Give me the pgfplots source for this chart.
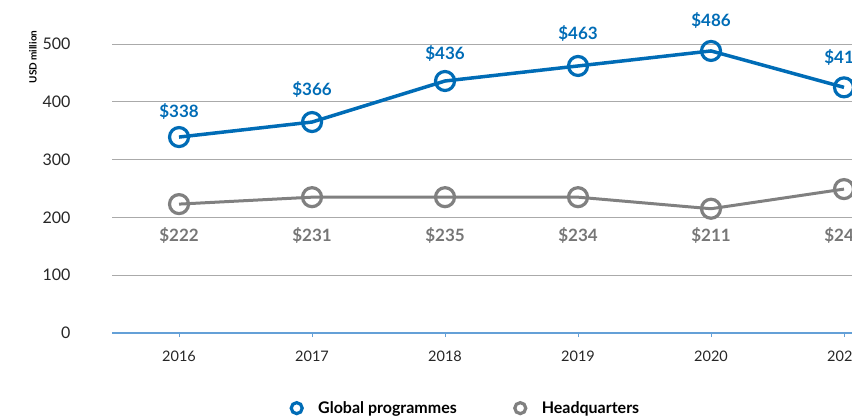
\documentclass[border=0pt]{standalone}
\usepackage{fontspec}
\setmainfont{Lato}
\usepackage{pgfplots}
\pgfplotsset{compat=1.18}
\definecolor{gblue}{RGB}{0,108,182}
\definecolor{hgray}{RGB}{128,128,128}
\definecolor{hlab}{RGB}{118,118,118}
\definecolor{axblue}{RGB}{100,160,215}
\definecolor{gridc}{RGB}{170,170,170}
\pgfplotsset{circlegend/.style={legend image code/.code={\draw[##1, mark size=5.5bp] plot coordinates {(0bp,0bp)};}}}
\begin{document}
\begin{tikzpicture}
\useasboundingbox (0,0) rectangle (852bp,-416bp);
\clip (0,0) rectangle (852bp,-416bp);
\begin{axis}[
  at={(112bp,-333bp)}, anchor=south west,
  scale only axis, width=788bp, height=289bp,
  xmin=2015.496, xmax=2021.421, ymin=0, ymax=500,
  clip=false,
  axis x line*=bottom, axis y line*=left,
  x axis line style={color=axblue, line width=1.3bp, -},
  y axis line style={draw=none},
  xtick={2016,2017,2018,2019,2020,2021},
  xticklabels={2016,2017,2018,2019,2020,2021},
  ytick={0,100,200,300,400,500},
  xtick style={color=axblue, line width=1bp},
  major tick length=4bp, tick align=outside,
  ytick style={draw=none},
  ymajorgrids, grid style={gridc, line width=1bp},
  /pgf/number format/assume math mode=true,
  yticklabel style={font=\fontsize{16bp}{18bp}\selectfont, text=black!85, xshift=-34bp},
  xticklabel style={font=\fontsize{14.5bp}{17bp}\selectfont, text=black!85, yshift=-10bp},
  ylabel={USD million},
  ylabel style={at={(axis description cs:-0.1003,0.955)}, anchor=center, font=\bfseries\fontsize{10bp}{11bp}\selectfont},
  legend style={at={(axis cs:2016.842,-130)}, anchor=west, draw=none, fill=none,
    inner sep=0pt, legend columns=2,
    font=\bfseries\fontsize{16bp}{18bp}\selectfont,
    /tikz/every odd column/.append style={column sep=14bp},
    /tikz/every even column/.append style={column sep=56bp}},
  legend cell align=left,
]
\addplot[gblue, line width=3.5bp, mark=o, mark size=9.5bp,
  mark options={fill=white, line width=3.2bp}, circlegend]
  table {
  x y
  2016 339
  2017 365
  2018 436
  2019 462
  2020 488
  2021 425
  };
\addlegendentry{Global programmes}
\addplot[hgray, line width=3bp, mark=o, mark size=9.5bp,
  mark options={fill=white, line width=3.2bp}, circlegend]
  table {
  x y
  2016 223
  2017 235
  2018 235
  2019 235
  2020 215
  2021 249
  };
\addlegendentry{Headquarters}
\addplot[draw=none, mark=none, forget plot,
  nodes near coords, point meta=explicit symbolic,
  nodes near coords style={anchor=center, font=\bfseries\fontsize{17bp}{19bp}\selectfont, text=gblue}]
  table[meta=label] {
  x y label
  2016 384 \$338
  2017 422 \$366
  2018 484 \$436
  2019 519 \$463
  2020 541 \$486
  2021 476 \$419
  };
\addplot[draw=none, mark=none, forget plot,
  nodes near coords, point meta=explicit symbolic,
  nodes near coords style={anchor=center, font=\bfseries\fontsize{17bp}{19bp}\selectfont, text=hlab}]
  table[meta=label] {
  x y label
  2016 168 \$222
  2017 168 \$231
  2018 168 \$235
  2019 168 \$234
  2020 168 \$211
  2021 168 \$248
  };
\end{axis}
\end{tikzpicture}
\end{document}
